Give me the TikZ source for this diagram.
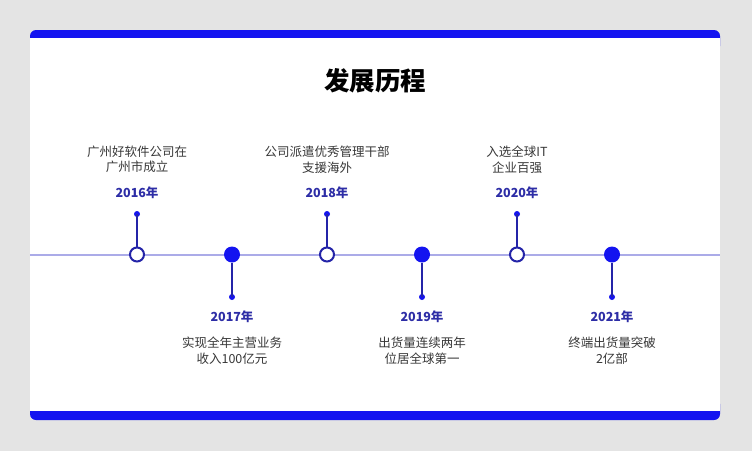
\documentclass[tikz,border=0pt]{standalone}
\usepackage{fontspec}
\setmainfont{Noto Sans CJK SC}
\definecolor{bg}{HTML}{E4E4E4}
\definecolor{mainblue}{HTML}{1414F0}
\definecolor{linec}{HTML}{ABABE8}
\definecolor{navy}{HTML}{2424A8}
\definecolor{yearc}{HTML}{2D2DA6}
\definecolor{txt}{HTML}{383838}
\begin{document}
\begin{tikzpicture}[x=1pt,y=-1pt,
  yearlbl/.style={font=\fontsize{12.5}{14}\selectfont\bfseries, text=yearc, inner sep=0pt},
  desc/.style={font=\fontsize{12.5}{15.5}\selectfont, text=txt, align=center, inner sep=0pt},
  opencirc/.style={circle, draw=navy, line width=2pt, fill=white, minimum size=14pt, inner sep=0pt},
  fullcirc/.style={circle, fill=mainblue, minimum size=16pt, inner sep=0pt},
  tipdot/.style={circle, fill=mainblue, minimum size=6pt, inner sep=0pt},
  stem/.style={navy, line width=1.6pt}]
\fill[bg] (0,0) rectangle (752,451);
\useasboundingbox (0,0) rectangle (752,451);
% card
\fill[mainblue, rounded corners=6pt] (30,30) rectangle (720,52);
\fill[mainblue, rounded corners=6pt] (30,398) rectangle (720,420);
\fill[white] (30,38) rectangle (720,411);
% title
\node[font=\fontsize{25.5}{30}\selectfont\bfseries, inner sep=0pt] (title) at (375,80.5) {发展历程};
% timeline
\coordinate (ls) at (30,254.5);
\coordinate (le) at (720,254.5);
\draw[linec, line width=2pt] (ls) -- (le);
% top events
\foreach \i/\x/\yr/\txt in {1/137/2016年/{广州好软件公司在\\广州市成立}, 3/327/2018年/{公司派遣优秀管理干部\\支援海外}, 5/517/2020年/{入选全球IT\\企业百强}}{
  \node[tipdot] (d\i) at (\x,214) {};
  \node[opencirc] (c\i) at (\x,254.5) {};
  \draw[stem] (c\i) -- (d\i.center);
  \node[yearlbl] (y\i) at (\x,193) {\yr};
  \node[desc] (t\i) at (\x,159.5) {\txt};
}
% bottom events
\foreach \i/\x/\yr/\txt in {2/232/2017年/{实现全年主营业务\\收入100亿元}, 4/422/2019年/{出货量连续两年\\位居全球第一}, 6/612/2021年/{终端出货量突破\\2亿部}}{
  \node[tipdot] (d\i) at (\x,297) {};
  \node[fullcirc] (c\i) at (\x,254.5) {};
  \draw[stem] (c\i) -- (d\i.center);
  \node[yearlbl] (y\i) at (\x,317) {\yr};
  \node[desc] (t\i) at (\x,350.5) {\txt};
}
\end{tikzpicture}
\end{document}
